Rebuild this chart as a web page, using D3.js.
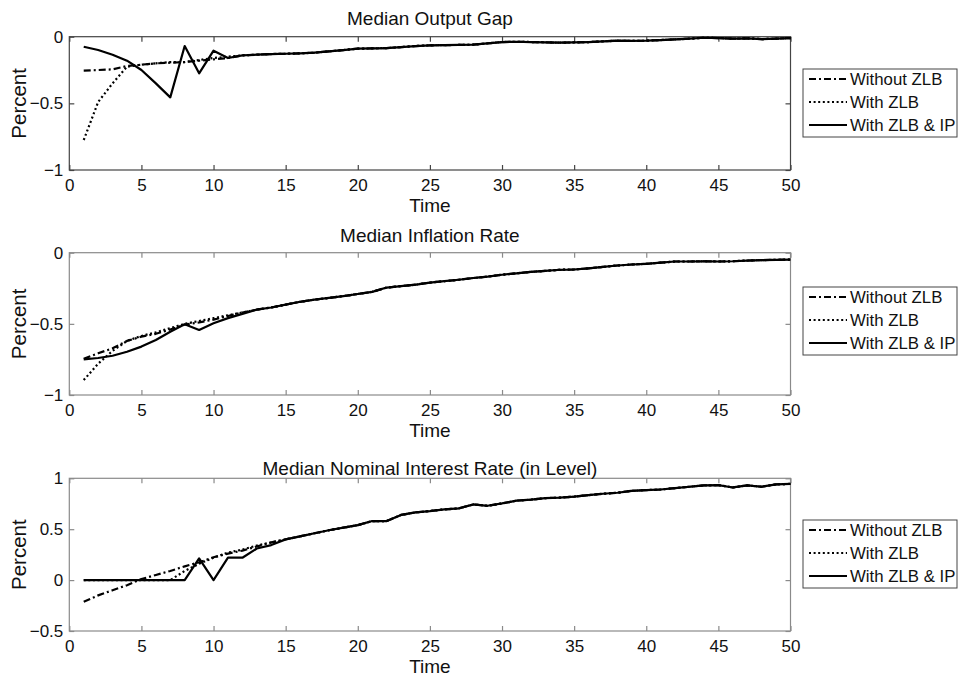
<!DOCTYPE html>
<html><head><meta charset="utf-8">
<script src="https://cdn.jsdelivr.net/npm/d3@7"></script>
<style>
html,body{margin:0;padding:0;background:#fff;}
svg{display:block;font-family:"Liberation Sans",Arial,sans-serif;}
</style></head>
<body>
<svg id="chart" width="963" height="680"></svg>
<script>
// ---------- DATA ----------
const time = d3.range(1, 51);
const seriesNames = ["Without ZLB", "With ZLB", "With ZLB & IP"];
const titles = ["Median Output Gap", "Median Inflation Rate", "Median Nominal Interest Rate (in Level)"];
const xTicks = [0,5,10,15,20,25,30,35,40,45,50];
const yTicksGap = [-1,-0.5,0];
const yTicksInfl = [-1,-0.5,0];
const yTicksRate = [-0.5,0,0.5,1];

// Output gap: t = 1..11 per series, shared path t = 12..50
const gapNoZLB   = [-0.255,-0.25,-0.245,-0.22,-0.21,-0.2,-0.195,-0.19,-0.18,-0.17,-0.16];
const gapZLB     = [-0.775,-0.49,-0.35,-0.225,-0.21,-0.2,-0.19,-0.19,-0.175,-0.16,-0.15];
const gapZLBIP   = [-0.075,-0.10,-0.135,-0.18,-0.25,-0.35,-0.455,-0.07,-0.275,-0.105,-0.16];
const gapTail    = [-0.14,-0.135,-0.13,-0.128,-0.125,-0.12,-0.11,-0.1,-0.09,-0.088,-0.085,-0.078,-0.07,
                    -0.065,-0.063,-0.062,-0.06,-0.05,-0.04,-0.038,-0.04,-0.042,-0.045,-0.043,-0.04,-0.035,
                    -0.03,-0.032,-0.03,-0.025,-0.02,-0.015,-0.008,-0.01,-0.015,-0.012,-0.018,-0.015,-0.01];

// Inflation: t = 1..12 per series, shared path t = 13..50
const inflNoZLB  = [-0.745,-0.707,-0.672,-0.62,-0.59,-0.57,-0.54,-0.505,-0.49,-0.47,-0.445,-0.42];
const inflZLB    = [-0.895,-0.78,-0.69,-0.62,-0.585,-0.56,-0.53,-0.5,-0.48,-0.46,-0.44,-0.42];
const inflZLBIP  = [-0.75,-0.74,-0.724,-0.696,-0.66,-0.613,-0.555,-0.503,-0.543,-0.496,-0.46,-0.43];
const inflTail   = [-0.40,-0.385,-0.365,-0.345,-0.33,-0.318,-0.305,-0.29,-0.275,-0.245,-0.235,-0.225,-0.21,
                    -0.2,-0.19,-0.178,-0.168,-0.155,-0.145,-0.135,-0.128,-0.12,-0.118,-0.11,-0.1,-0.09,
                    -0.083,-0.078,-0.07,-0.062,-0.062,-0.06,-0.062,-0.06,-0.055,-0.052,-0.05,-0.048];

// Nominal rate: t = 1..15 per series, shared path t = 16..50
const rateNoZLB  = [-0.213,-0.15,-0.1,-0.05,0.01,0.05,0.09,0.135,0.175,0.225,0.26,0.29,0.33,0.37,0.40];
const rateZLB    = [0,0,0,0,0,0,0,0.09,0.16,0.22,0.27,0.3,0.34,0.37,0.40];
const rateZLBIP  = [0,0,0,0,0,0,0,0,0.213,0,0.22,0.22,0.31,0.344,0.40];
const rateTail   = [0.43,0.46,0.49,0.515,0.54,0.58,0.58,0.64,0.665,0.678,0.695,0.704,0.743,0.73,0.753,
                    0.78,0.79,0.805,0.81,0.82,0.835,0.848,0.858,0.877,0.884,0.89,0.904,0.917,0.93,0.933,
                    0.91,0.93,0.917,0.94,0.945];

// ---------- LAYOUT ----------
const panels = [
  {title: titles[0], top: 36.7, bottom: 170, yDomain: [-1, 0], yTicks: yTicksGap, axisColor: "#444",
   series: [gapNoZLB.concat(gapTail), gapZLB.concat(gapTail), gapZLBIP.concat(gapTail)],
   titleY: 25, legTop: 69},
  {title: titles[1], top: 252.7, bottom: 395, yDomain: [-1, 0], yTicks: yTicksInfl, axisColor: "#8a8a8a",
   series: [inflNoZLB.concat(inflTail), inflZLB.concat(inflTail), inflZLBIP.concat(inflTail)],
   titleY: 242, legTop: 287},
  {title: titles[2], top: 478.3, bottom: 631, yDomain: [-0.5, 1], yTicks: yTicksRate, axisColor: "#8a8a8a",
   series: [rateNoZLB.concat(rateTail), rateZLB.concat(rateTail), rateZLBIP.concat(rateTail)],
   titleY: 475, legTop: 520}
];
const left = 69.3, right = 790.5;
const styles = [
  {dash: "7,3,2,3"},
  {dash: "2,2.6"},
  {dash: null}
];
const FONT = '"Liberation Sans",Arial,sans-serif';

const svg = d3.select("#chart");
const x = d3.scaleLinear().domain([0, 50]).range([left, right]);

panels.forEach(p => {
  const y = d3.scaleLinear().domain(p.yDomain).range([p.bottom, p.top]);
  const g = svg.append("g");

  // frame
  g.append("rect").attr("x", left).attr("y", p.top)
    .attr("width", right - left).attr("height", p.bottom - p.top)
    .attr("fill", "none").attr("stroke", p.axisColor).attr("stroke-width", 1.2);

  // axes with inward ticks
  const xb = g.append("g").attr("transform", `translate(0,${p.bottom})`)
    .call(d3.axisBottom(x).tickValues(xTicks).tickSizeInner(-5).tickSizeOuter(0).tickPadding(9));
  const xt = g.append("g").attr("transform", `translate(0,${p.top})`)
    .call(d3.axisTop(x).tickValues(xTicks).tickSizeInner(-5).tickSizeOuter(0).tickFormat(""));
  const yl = g.append("g").attr("transform", `translate(${left},0)`)
    .call(d3.axisLeft(y).tickValues(p.yTicks).tickSizeInner(-5).tickSizeOuter(0).tickPadding(6).tickFormat(d3.format("")));
  const yr = g.append("g").attr("transform", `translate(${right},0)`)
    .call(d3.axisRight(y).tickValues(p.yTicks).tickSizeInner(-5).tickSizeOuter(0).tickFormat(""));
  [xb, xt, yl, yr].forEach(a => {
    a.select(".domain").remove();
    a.selectAll(".tick line").attr("stroke", p.axisColor).attr("stroke-width", 1.2);
    a.selectAll("text").attr("fill", "#111").style("font-size", "17px").style("font-family", FONT);
  });

  // lines
  const line = d3.line().x((d, i) => x(time[i])).y(d => y(d));
  p.series.forEach((s, k) => {
    const path = g.append("path").datum(s)
      .attr("d", line).attr("fill", "none").attr("stroke", "#000")
      .attr("stroke-width", 2.2).attr("stroke-linejoin", "round");
    if (styles[k].dash) path.attr("stroke-dasharray", styles[k].dash);
  });

  // title
  g.append("text").attr("x", (left + right) / 2 + 0).attr("y", p.titleY)
    .attr("text-anchor", "middle").style("font-size", "19px").attr("fill", "#111").text(p.title);
  // x label
  g.append("text").attr("x", (left + right) / 2).attr("y", p.bottom + 42)
    .attr("text-anchor", "middle").style("font-size", "19px").attr("fill", "#111").text("Time");
  // y label
  g.append("text").attr("transform", `translate(26,${(p.top + p.bottom) / 2}) rotate(-90)`)
    .attr("text-anchor", "middle").style("font-size", "20.5px").attr("fill", "#111").text("Percent");

  // legend
  const lg = g.append("g").attr("transform", `translate(803,${p.legTop})`);
  lg.append("rect").attr("width", 154).attr("height", 68)
    .attr("fill", "#fff").attr("stroke", "#444").attr("stroke-width", 1);
  seriesNames.forEach((n, k) => {
    const yy = 10 + k * 23;
    const l = lg.append("line").attr("x1", 6).attr("x2", 44).attr("y1", yy).attr("y2", yy)
      .attr("stroke", "#000").attr("stroke-width", 2);
    if (styles[k].dash) l.attr("stroke-dasharray", styles[k].dash);
    lg.append("text").attr("x", 47).attr("y", yy + 6)
      .style("font-size", "16.8px").attr("fill", "#111").text(n);
  });
});
</script>
</body></html>
